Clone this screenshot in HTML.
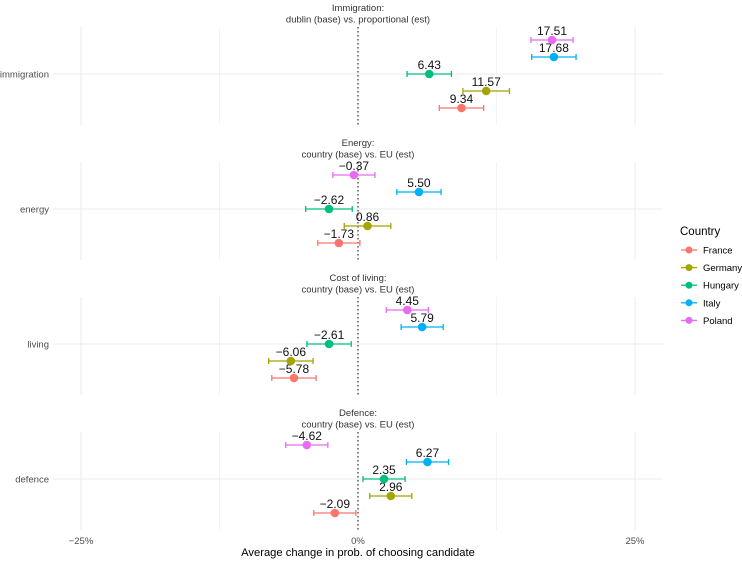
<!DOCTYPE html>
<html><head><meta charset="utf-8"><style>
body{margin:0;background:#fff;font-family:"Liberation Sans",sans-serif}
svg text{font-family:"Liberation Sans",sans-serif}
</style></head><body>
<svg id="c" width="742" height="559"></svg>
<script>
const countries=["France","Germany","Hungary","Italy","Poland"];
const colors=["#F8766D","#A3A500","#00BF7D","#00B0F6","#E76BF3"];
const facets=["immigration","energy","living","defence"];
const facetTitles1=["Immigration:","Energy:","Cost of living:","Defence:"];
const facetTitles2=["dublin (base) vs. proportional (est)","country (base) vs. EU (est)","country (base) vs. EU (est)","country (base) vs. EU (est)"];
// estimates by facet, order France, Germany, Hungary, Italy, Poland
const estImmigration=[9.34,11.57,6.43,17.68,17.51];
const estEnergy=[-1.73,0.86,-2.62,5.50,-0.37];
const estLiving=[-5.78,-6.06,-2.61,5.79,4.45];
const estDefence=[-2.09,2.96,2.35,6.27,-4.62];
const halfImmigration=[2.0,2.1,2.0,2.0,1.9];
const halfEnergy=[1.9,2.1,2.1,2.0,1.9];
const halfLiving=[2.0,2.0,2.0,1.9,1.9];
const halfDefence=[1.9,1.9,1.9,1.9,1.9];
const xTicks=[-25,0,25];
const xTickLabels=["\u221225%","0%","25%"];
const ests=[estImmigration,estEnergy,estLiving,estDefence];
const halfs=[halfImmigration,halfEnergy,halfLiving,halfDefence];

const svg=document.getElementById('c');
const NS="http://www.w3.org/2000/svg";
function mk(t,a,p){const e=document.createElementNS(NS,t);for(const k in a)e.setAttribute(k,a[k]);(p||svg).appendChild(e);return e;}
const x=v=>358+v*11.08;
const left=53,right=663;
const panelTop=[27,162,297,432],panelH=98;
const fmt=v=>(v<0?"\u2212":"")+Math.abs(v).toFixed(2);

facets.forEach((f,i)=>{
  const top=panelTop[i],cy=top+panelH/2-2;
  const g=mk('g',{});
  
  
  const t1=mk('text',{x:358,y:top-16,'text-anchor':'middle','font-size':9.5,fill:'#333'},g);t1.textContent=facetTitles1[i];
  
  const t2=mk('text',{x:358,y:top-4.5,'text-anchor':'middle','font-size':9.5,fill:'#333'},g);t2.textContent=facetTitles2[i];
  
  [-25,-12.5,0,12.5,25].forEach(v=>{mk('line',{x1:x(v),x2:x(v),y1:top,y2:top+panelH,stroke:'#ebebeb','stroke-width':v%25===0?1:0.6},g);});
  mk('line',{x1:left,x2:right,y1:cy,y2:cy,stroke:'#ebebeb','stroke-width':1},g);
  const yl=mk('text',{x:49,y:cy+3.5,'text-anchor':'end','font-size':9.5,fill:'#4d4d4d'},g);yl.textContent=f;
  
  mk('line',{x1:x(0),x2:x(0),y1:top,y2:top+panelH,stroke:'#444','stroke-width':1.3,'stroke-dasharray':'1.5,2.5'},g);
  countries.forEach((c,j)=>{
    const yy=cy+(2-j)*17;
    const v=ests[i][j],h=halfs[i][j];
    const m=mk('g',{},g);
    
    
    mk('line',{x1:x(v-h),x2:x(v+h),y1:yy,y2:yy,stroke:colors[j],'stroke-width':1.3},m);
    mk('line',{x1:x(v-h),x2:x(v-h),y1:yy-3,y2:yy+3,stroke:colors[j],'stroke-width':1.3},m);
    mk('line',{x1:x(v+h),x2:x(v+h),y1:yy-3,y2:yy+3,stroke:colors[j],'stroke-width':1.3},m);
    mk('circle',{cx:x(v),cy:yy,r:4.3,fill:colors[j]},m);
    const lt=mk('text',{x:x(v),y:yy-5,'text-anchor':'middle','font-size':12,fill:'#111'},m);lt.textContent=fmt(v);
  });
});
xTicks.forEach((v,i)=>{const t=mk('text',{x:x(v),y:544,'text-anchor':'middle','font-size':9.5,fill:'#4d4d4d'});t.textContent=xTickLabels[i];
  });
const xt=mk('text',{x:358,y:556,'text-anchor':'middle','font-size':11.2,fill:'#000'});xt.textContent="Average change in prob. of choosing candidate";

const lg=mk('g',{});


const lt=mk('text',{x:680,y:235,'font-size':11.5,fill:'#000'},lg);lt.textContent="Country";
countries.forEach((c,j)=>{const yy=250+j*17.6;
  const e=mk('g',{},lg);
  
  
  mk('line',{x1:681,x2:697,y1:yy,y2:yy,stroke:colors[j],'stroke-width':1.3},e);
  mk('circle',{cx:689,cy:yy,r:3.5,fill:colors[j]},e);
  const t=mk('text',{x:703,y:yy+3.5,'font-size':9.5,fill:'#000'},e);t.textContent=c;});
</script>
</body></html>
